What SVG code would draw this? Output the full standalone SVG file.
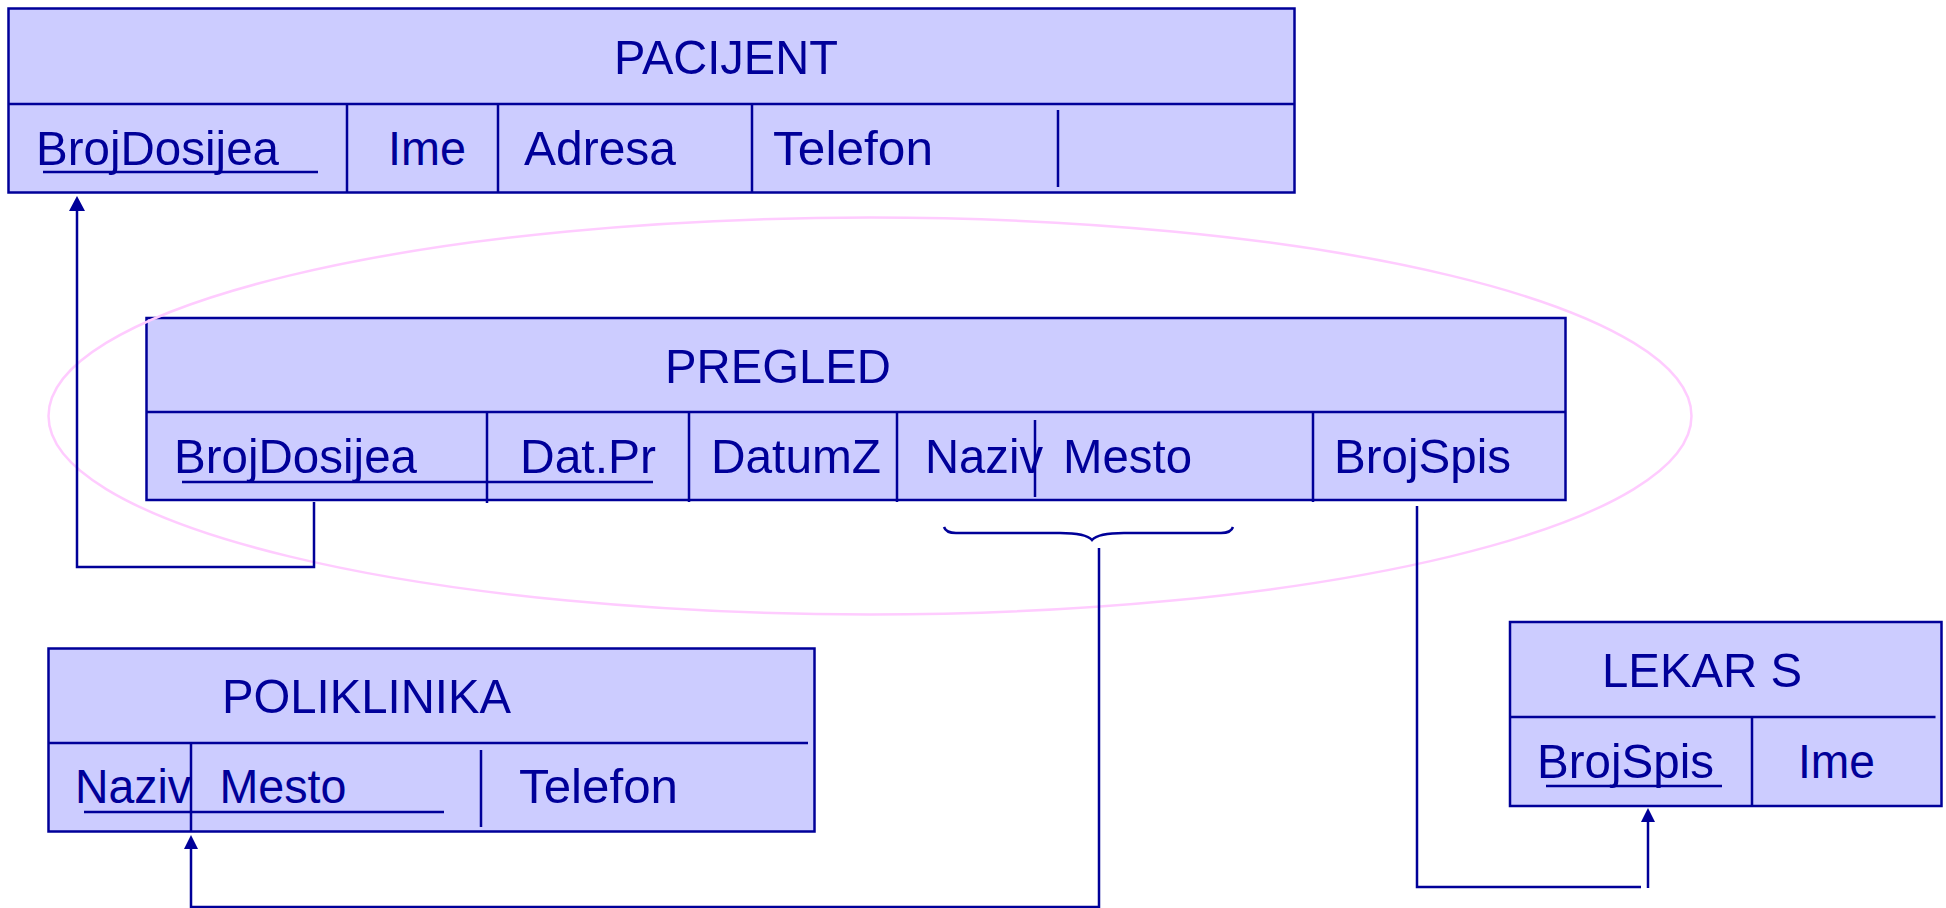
<svg xmlns="http://www.w3.org/2000/svg" width="1946" height="908" viewBox="0 0 1946 908">
<style>
.box{fill:#CCCCFF;stroke:#000099;stroke-width:2.5}
.ln{stroke:#000099;stroke-width:2.5;fill:none}
.t{font-family:"Liberation Sans",Arial,sans-serif;font-size:49px;fill:#000099}
.ell{fill:none;stroke:#FFCCFF;stroke-width:2.5}
.ah{fill:#000099}
</style>
<rect width="1946" height="908" fill="#FFFFFF"/>
<g id="pacijent">
<rect class="box" x="8.5" y="8.5" width="1286" height="184"/>
<line class="ln" x1="8.5" y1="104" x2="1294.5" y2="104"/>
<line class="ln" x1="347" y1="104" x2="347" y2="192.5"/>
<line class="ln" x1="498" y1="104" x2="498" y2="192.5"/>
<line class="ln" x1="752" y1="104" x2="752" y2="192.5"/>
<line class="ln" x1="1058" y1="110" x2="1058" y2="187"/>
<text class="t" x="614" y="74" textLength="224" lengthAdjust="spacingAndGlyphs">PACIJENT</text>
<text class="t" x="36" y="165" textLength="243" lengthAdjust="spacingAndGlyphs">BrojDosijea</text>
<line class="ln" x1="43" y1="172" x2="318" y2="172"/>
<text class="t" x="388" y="165" textLength="78" lengthAdjust="spacingAndGlyphs">Ime</text>
<text class="t" x="524" y="165" textLength="152" lengthAdjust="spacingAndGlyphs">Adresa</text>
<text class="t" x="773" y="165" textLength="160" lengthAdjust="spacingAndGlyphs">Telefon</text>
</g>
<g id="pregled">
<rect class="box" x="146.5" y="318" width="1419" height="182"/>
<line class="ln" x1="146.5" y1="412" x2="1565.5" y2="412"/>
<line class="ln" x1="487" y1="412" x2="487" y2="503"/>
<line class="ln" x1="689" y1="412" x2="689" y2="502"/>
<line class="ln" x1="897" y1="412" x2="897" y2="502"/>
<line class="ln" x1="1035" y1="420" x2="1035" y2="497"/>
<line class="ln" x1="1313" y1="412" x2="1313" y2="502"/>
<text class="t" x="665" y="383" textLength="226" lengthAdjust="spacingAndGlyphs">PREGLED</text>
<text class="t" x="174" y="473" textLength="243" lengthAdjust="spacingAndGlyphs">BrojDosijea</text>
<text class="t" x="520" y="473" textLength="136" lengthAdjust="spacingAndGlyphs">Dat.Pr</text>
<line class="ln" x1="182" y1="482" x2="653" y2="482"/>
<text class="t" x="711" y="473" textLength="170" lengthAdjust="spacingAndGlyphs">DatumZ</text>
<text class="t" x="925" y="473" textLength="118" lengthAdjust="spacingAndGlyphs">Naziv</text>
<text class="t" x="1063" y="473" textLength="129" lengthAdjust="spacingAndGlyphs">Mesto</text>
<text class="t" x="1334" y="473" textLength="177" lengthAdjust="spacingAndGlyphs">BrojSpis</text>
</g>
<g id="poliklinika">
<rect class="box" x="48.5" y="648.5" width="766" height="183"/>
<line class="ln" x1="48.5" y1="743" x2="808" y2="743"/>
<line class="ln" x1="191" y1="743" x2="191" y2="831.5"/>
<line class="ln" x1="481" y1="750" x2="481" y2="827"/>
<text class="t" x="222" y="713" textLength="289" lengthAdjust="spacingAndGlyphs">POLIKLINIKA</text>
<text class="t" x="75" y="803" textLength="116" lengthAdjust="spacingAndGlyphs">Naziv</text>
<text class="t" x="219.5" y="803" textLength="127" lengthAdjust="spacingAndGlyphs">Mesto</text>
<line class="ln" x1="84" y1="812" x2="444" y2="812"/>
<text class="t" x="519" y="803" textLength="159" lengthAdjust="spacingAndGlyphs">Telefon</text>
</g>
<g id="lekar">
<rect class="box" x="1510" y="622" width="431.5" height="184"/>
<line class="ln" x1="1510" y1="717" x2="1935.5" y2="717"/>
<line class="ln" x1="1752" y1="717" x2="1752" y2="806"/>
<text class="t" x="1602" y="687" textLength="200" lengthAdjust="spacingAndGlyphs">LEKAR S</text>
<text class="t" x="1537" y="778" textLength="177" lengthAdjust="spacingAndGlyphs">BrojSpis</text>
<line class="ln" x1="1546" y1="786" x2="1722" y2="786"/>
<text class="t" x="1798" y="778" textLength="77" lengthAdjust="spacingAndGlyphs">Ime</text>
</g>
<ellipse class="ell" cx="870" cy="416" rx="821.5" ry="198.5"/>
<g id="connectors">
<polyline class="ln" points="314,502 314,567 77,567 77,210"/>
<polygon class="ah" points="77,196 69,211 85,211"/>
<path class="ln" d="M944,527 Q946,533 956,533 L1060,533 Q1086,533 1092,540 Q1098,533 1124,533 L1221,533 Q1231,533 1233,527"/>
<polyline class="ln" points="1099,548 1099,907 191,907 191,847"/>
<polygon class="ah" points="191,835 184,849 198,849"/>
<polyline class="ln" points="1417,506 1417,887 1641,887"/>
<line class="ln" x1="1648" y1="888" x2="1648" y2="821"/>
<polygon class="ah" points="1648,808 1641,822 1655,822"/>
</g>
</svg>
